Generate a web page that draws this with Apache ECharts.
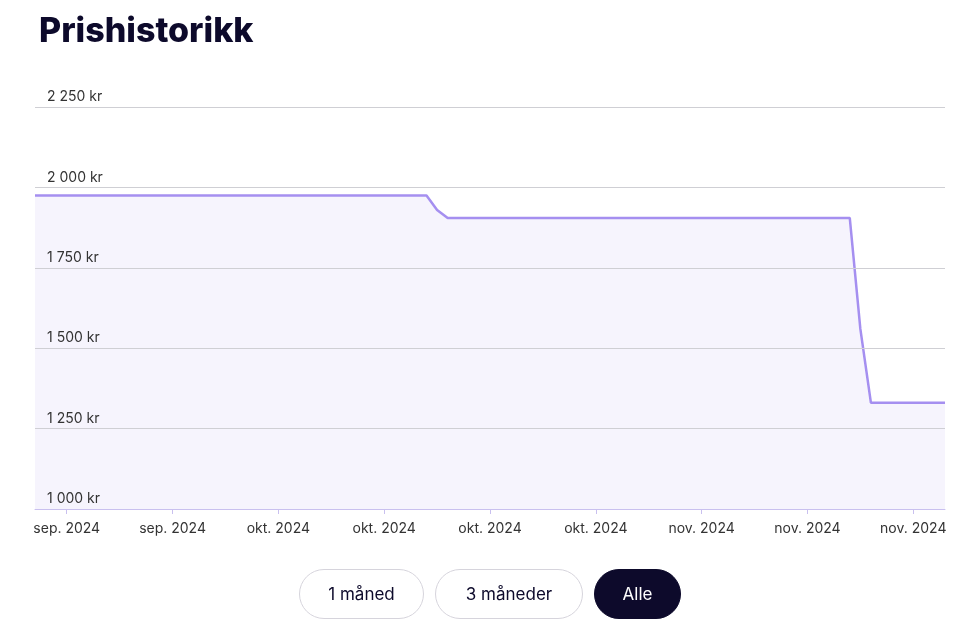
<!DOCTYPE html>
<html><head><meta charset="utf-8">
<script src="https://cdn.jsdelivr.net/npm/echarts@6/dist/echarts.min.js"></script>
<style>
html,body{margin:0;padding:0;background:#fff;font-family:Inter,"Noto Sans",sans-serif;}
#c{width:960px;height:634px;position:absolute;left:0;top:0;}
.btns{position:absolute;top:569px;left:299px;display:flex;gap:11px;}
.b{height:50px;box-sizing:border-box;border:1.5px solid #d6d4dc;border-radius:26px;display:flex;align-items:center;justify-content:center;font-size:17px;color:#0d0a2b;background:#fff;}
.b.on{background:#0d0a2b;color:#fff;border-color:#0d0a2b;}
</style></head><body>
<div id="c"></div>
<div class="btns"><div class="b" style="width:125px">1 måned</div><div class="b" style="width:148px">3 måneder</div><div class="b on" style="width:87px">Alle</div></div>
<script>
// price runs: [fromIndex, toIndex, price]
const priceRuns = [[0,37,1975],[38,38,1930],[39,77,1905],[78,78,1560],[79,86,1330]];
const tickIndices = [3,13,23,33,43,53,63,73,83];
const tickLabels = ['sep. 2024','sep. 2024','okt. 2024','okt. 2024','okt. 2024','okt. 2024','nov. 2024','nov. 2024','nov. 2024'];
const yTicks = [1000,1250,1500,1750,2000,2250];

const categories = [], prices = [];
priceRuns.forEach(([a,b,p])=>{for(let i=a;i<=b;i++){categories.push(i);prices.push(p);}});
const labelAt = {}; tickIndices.forEach((ix,k)=>labelAt[ix]=tickLabels[k]);
const fmt = v => String(v).replace(/\B(?=(\d{3})+(?!\d))/g,' ') + ' kr';

const chart = echarts.init(document.getElementById('c'));
chart.setOption({
  animation:false,
  title:{text:'Prishistorikk',left:34,top:10,textStyle:{fontSize:34,fontWeight:800,color:'#0d0a2b',fontFamily:'Inter'}},
  grid:{left:35,right:15,top:107,bottom:125},
  xAxis:{type:'category',data:categories,boundaryGap:false,z:5,
    axisLine:{lineStyle:{color:'#c9c0ef',width:1}},
    axisTick:{interval:(i)=>labelAt[i]!==undefined,length:5,lineStyle:{color:'#c9c0ef'}},
    axisLabel:{interval:(i)=>labelAt[i]!==undefined,formatter:(v,i)=>labelAt[i]||'',color:'#333',fontSize:14,margin:13,fontFamily:'Inter'},
    splitLine:{show:false}},
  yAxis:{type:'value',min:yTicks[0],max:yTicks[yTicks.length-1],interval:250,z:5,
    axisLabel:{inside:true,formatter:fmt,color:'#333',fontSize:14,verticalAlign:'bottom',margin:12,padding:[0,0,3,0],fontFamily:'Inter'},
    axisLine:{show:false},axisTick:{show:false},
    splitLine:{lineStyle:{color:'#cfcfd4',width:1}}},
  series:[{type:'line',data:prices,showSymbol:false,z:1,
    lineStyle:{color:'#a58ff0',width:2.5},
    areaStyle:{color:'#f6f4fd',opacity:1}}]
});
</script></body></html>
